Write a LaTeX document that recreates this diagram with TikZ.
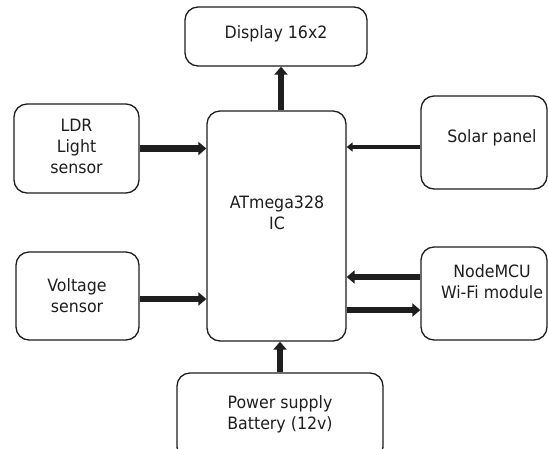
\documentclass[tikz,border=0pt]{standalone}
\usepackage{fontspec}
\setmainfont{DejaVu Sans}[FakeStretch=0.93]
\usetikzlibrary{arrows.meta}
\definecolor{ink}{HTML}{1E1E1E}
\begin{document}
\begin{tikzpicture}[x=1pt,y=-1pt,
  blk/.style={draw=ink, line width=1.3pt, rounded corners=13pt, fill=white, inner sep=0pt},
  lbl/.style={text=ink, align=center, inner sep=0pt, font=\fontsize{17}{21}\selectfont},
  thickarr/.style={draw=ink, line width=6.5pt, -{Triangle[width=13pt,length=8pt]}},
  thinarr/.style={draw=ink, line width=4pt, -{Triangle[width=9pt,length=6pt]}}]
\useasboundingbox (0,0) rectangle (548,448);
\fill[white] (0,0) rectangle (548,448);
% boxes
\node[blk, minimum width=182pt, minimum height=59pt] (disp) at (276,36.5) {};
\node[blk, minimum width=125pt, minimum height=89pt] (ldr) at (76.5,148.5) {};
\node[blk, minimum width=139pt, minimum height=230pt] (atm) at (276.5,226) {};
\node[blk, minimum width=126pt, minimum height=93pt] (solar) at (484,142.5) {};
\node[blk, minimum width=123pt, minimum height=88pt] (volt) at (77.5,296) {};
\node[blk, minimum width=126pt, minimum height=93pt] (nmcu) at (484,293.5) {};
\node[blk, minimum width=206pt, minimum height=87pt] (pwr) at (280,416.5) {};
% labels
\node[lbl] (dispT) at (276,34) {Display 16x2};
\node[lbl] (ldrT) at (76.5,146) {LDR\\Light\\sensor};
\node[lbl] (atmT) at (277,213) {ATmega328\\IC};
\node[lbl] (solarT) at (492,138) {Solar panel};
\node[lbl] (voltT) at (77,296) {Voltage\\sensor};
\node[lbl] (nmcuT) at (492,282) {NodeMCU\\Wi-Fi module};
\node[lbl] (pwrT) at (280,414) {Power supply\\Battery (12v)};
% connectors
\draw[thickarr] ([xshift=4.5pt]atm.north) -- ([xshift=4.5pt]atm.north |- disp.south);
\draw[thickarr] (ldr.east) -- (ldr.east -| atm.west);
\draw[thinarr] ([yshift=-4.5pt]solar.west) -- ([yshift=-4.5pt]solar.west -| atm.east);
\draw[thickarr] ([yshift=-3pt]volt.east) -- ([yshift=-3pt]volt.east -| atm.west);
\draw[thickarr] ([yshift=16.5pt]nmcu.west) -- ([yshift=16.5pt]nmcu.west -| atm.east);
\draw[thickarr] ([yshift=-16.5pt]atm.east |- nmcu.west) -- ([yshift=-16.5pt]nmcu.west);
\draw[thickarr] (pwr.north) -- (pwr.north |- atm.south);
\end{tikzpicture}
\end{document}
